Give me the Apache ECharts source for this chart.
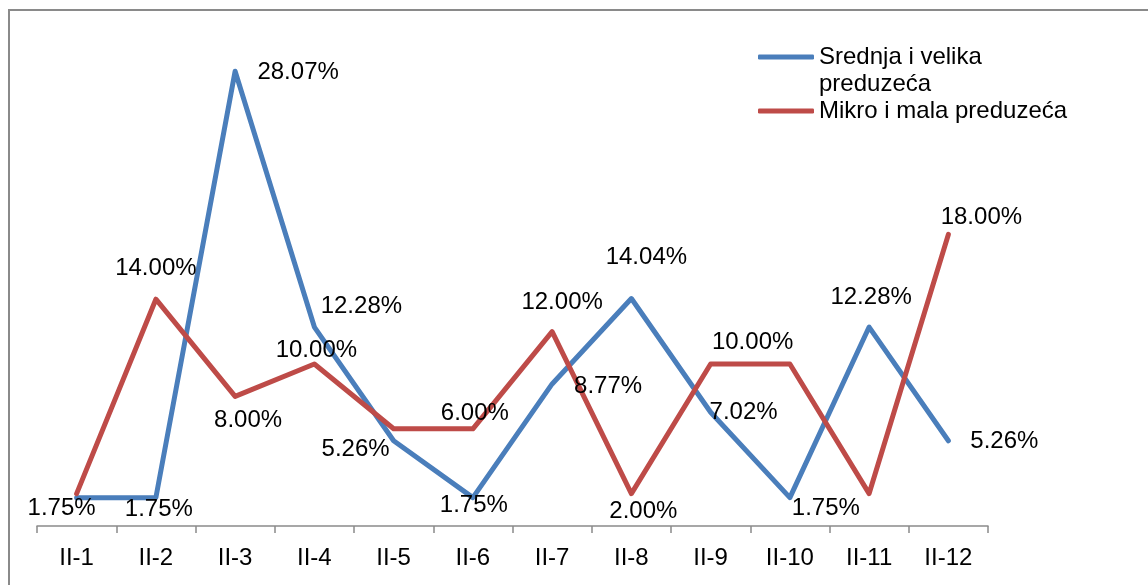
<!DOCTYPE html>
<html>
<head>
<meta charset="utf-8">
<script src="https://cdn.jsdelivr.net/npm/echarts@6/dist/echarts.min.js"></script>
<style>
html,body{margin:0;padding:0;background:#fff;}
#chart{width:1148px;height:585px;}
</style>
</head>
<body>
<div id="chart"></div>
<script>
const categories = ['II-1','II-2','II-3','II-4','II-5','II-6','II-7','II-8','II-9','II-10','II-11','II-12'];
const seriesNames = ['Srednja i velika\npreduzeća', 'Mikro i mala preduzeća'];
const srednjaVelika = [1.75, 1.75, 28.07, 12.28, 5.26, 1.75, 8.77, 14.04, 7.02, 1.75, 12.28, 5.26];
const mikroMala = [2.00, 14.00, 8.00, 10.00, 6.00, 6.00, 12.00, 2.00, 10.00, 10.00, 2.00, 18.00];

// label offsets (px, relative to point); null = label hidden
const blueLabelOffsets = [[-15,11],[3,12],[63,1],[47,-21],[-38,9],[1,8],[56,2],[15,-41],[33,0],[36,11],[2,-30],[56,1]];
const redLabelOffsets = [null,[0,-31],[13,24],[2,-14],null,[2,-15],[10,-29],[12,18],[42,-22],null,null,[33,-17]];

const FONT = 'Liberation Sans, Arial, sans-serif';
const BLUE = '#4A7EBB';
const RED = '#BE4B48';
const FS = 24;

function buildData(values, offsets) {
  return values.map((v, i) => ({
    value: v,
    label: { show: !!offsets[i] }
  }));
}

function makeSeries(name, values, offsets, color) {
  return {
    name: name,
    type: 'line',
    data: buildData(values, offsets),
    symbol: 'circle',
    symbolSize: 2,
    showSymbol: true,
    itemStyle: { color: color },
    lineStyle: { color: color, width: 5, cap: 'round', join: 'round' },
    emphasis: { disabled: true },
    label: {
      show: true,
      position: 'inside',
      color: '#000',
      fontSize: FS,
      fontFamily: FONT,
      formatter: p => p.value.toFixed(2) + '%'
    },
    labelLayout: function (p) {
      const o = offsets[p.dataIndex] || [0, 0];
      return { dx: o[0], dy: o[1], hideOverlap: false };
    },
    animation: false
  };
}

const chart = echarts.init(document.getElementById('chart'));
chart.setOption({
  animation: false,
  backgroundColor: '#fff',
  graphic: [{
    type: 'rect',
    shape: { x: 9, y: 10, width: 1400, height: 800 },
    style: { fill: 'none', stroke: '#8a8a8a', lineWidth: 2 },
    silent: true,
    z: -10
  }],
  legend: [{
    data: [{ name: seriesNames[0], icon: 'roundRect' }],
    formatter: name => ' \n' + name,
    left: 758, top: 16.5,
    orient: 'vertical',
    padding: 0,
    itemWidth: 56, itemHeight: 5,
    selectedMode: false,
    textStyle: { fontSize: FS, fontFamily: FONT, color: '#000', lineHeight: 27 }
  }, {
    data: [{ name: seriesNames[1], icon: 'roundRect' }],
    left: 758, top: 97.5,
    orient: 'vertical',
    padding: 0,
    itemWidth: 56, itemHeight: 5,
    selectedMode: false,
    textStyle: { fontSize: FS, fontFamily: FONT, color: '#000', lineHeight: 27 }
  }],
  grid: { left: 37, right: 160, top: 40, bottom: 59 },
  xAxis: {
    type: 'category',
    data: categories,
    boundaryGap: true,
    axisLine: { lineStyle: { color: '#8a8a8a', width: 1.5 } },
    axisTick: { show: true, length: 7, lineStyle: { color: '#8a8a8a', width: 1.5 } },
    axisLabel: { color: '#000', fontSize: FS, fontFamily: FONT, margin: 20, interval: 0 },
    splitLine: { show: false }
  },
  yAxis: {
    type: 'value',
    min: 0, max: 30,
    show: false
  },
  series: [
    makeSeries(seriesNames[0], srednjaVelika, blueLabelOffsets, BLUE),
    makeSeries(seriesNames[1], mikroMala, redLabelOffsets, RED)
  ]
});
</script>
</body>
</html>
